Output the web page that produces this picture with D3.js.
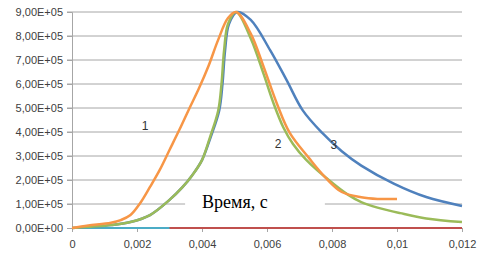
<!DOCTYPE html>
<html>
<head>
<meta charset="utf-8">
<script src="https://cdn.jsdelivr.net/npm/d3@7"></script>
<style>
  body { margin: 0; background: #fff; }
  svg { display: block; }
</style>
</head>
<body>
<div id="chart"></div>
<script>
// x ticks and y ticks
const xTicks = [0, 0.002, 0.004, 0.006, 0.008, 0.01, 0.012];
const yTicks = [0, 1e5, 2e5, 3e5, 4e5, 5e5, 6e5, 7e5, 8e5, 9e5];

// curve 1 (orange)
const orangeX = [0, 0.0005, 0.0012, 0.0015, 0.0018, 0.0021, 0.0024, 0.0027, 0.003, 0.0033, 0.0036, 0.0039, 0.0042, 0.0045, 0.0048, 0.00505, 0.0055, 0.0059, 0.0063, 0.0067, 0.0073, 0.0078, 0.0083, 0.0089, 0.0094, 0.01];
const orangeY = [0, 0.1e5, 0.22e5, 0.33e5, 0.54e5, 1.04e5, 1.71e5, 2.42e5, 3.25e5, 4.08e5, 4.95e5, 5.8e5, 6.75e5, 7.85e5, 8.75e5, 9.0e5, 8.1e5, 6.7e5, 5.2e5, 3.96e5, 2.9e5, 2.1e5, 1.5e5, 1.28e5, 1.21e5, 1.21e5];

// curve 2 (green)
const greenX = [0, 0.0012, 0.0018, 0.0024, 0.003, 0.0034, 0.0037, 0.004, 0.00425, 0.0045, 0.0046, 0.00468, 0.0048, 0.00505, 0.0055, 0.0059, 0.0062, 0.0065, 0.0068, 0.0072, 0.0079, 0.0085, 0.0089, 0.0094, 0.0101, 0.0109, 0.012];
const greenY = [0, 0.12e5, 0.25e5, 0.54e5, 1.17e5, 1.7e5, 2.2e5, 2.83e5, 3.8e5, 4.9e5, 6.0e5, 7.4e5, 8.5e5, 9.0e5, 7.9e5, 6.4e5, 5.2e5, 4.2e5, 3.5e5, 2.85e5, 2.0e5, 1.38e5, 1.08e5, 0.85e5, 0.62e5, 0.4e5, 0.25e5];

// curve 3 (blue)
const blueX = [0, 0.0012, 0.0018, 0.0024, 0.003, 0.0034, 0.0037, 0.004, 0.00427, 0.00453, 0.00463, 0.00471, 0.00483, 0.00508, 0.0055, 0.0061, 0.0066, 0.0071, 0.0077, 0.0083, 0.0089, 0.0099, 0.0109, 0.012];
const blueY = [0, 0.12e5, 0.25e5, 0.54e5, 1.17e5, 1.7e5, 2.2e5, 2.83e5, 3.8e5, 4.9e5, 6.0e5, 7.4e5, 8.5e5, 9.0e5, 8.67e5, 7.4e5, 6.17e5, 4.9e5, 3.96e5, 3.2e5, 2.6e5, 1.85e5, 1.29e5, 0.92e5];

// flat series along zero
const redX = [0, 0.012];
const redY = [0, 0];
const tealX = [0, 0.003];
const tealY = [0, 0];

// annotations: [text, x, y]
const curveLabels = [["1", 0.00225, 4.25e5], ["2", 0.00634, 3.5e5], ["3", 0.00806, 3.46e5]];
const axisTitle = "Время, с";

const width = 481, height = 256;
const margin = {left: 72, right: 19, top: 12, bottom: 28};
const w = width - margin.left - margin.right;
const h = height - margin.top - margin.bottom;

const svg = d3.select("#chart").append("svg")
    .attr("width", width)
    .attr("height", height)
    .append("g")
    .attr("transform", "translate(" + margin.left + "," + margin.top + ")");

const x = d3.scaleLinear().domain([0, 0.012]).range([0, w]);
const y = d3.scaleLinear().domain([0, 9e5]).range([h, 0]);

//Gridlines with small tick stubs on the left
svg.selectAll("line.grid")
    .data(yTicks.slice(1))
    .join("line")
    .attr("class", "grid")
    .attr("x1", -5)
    .attr("x2", w)
    .attr("y1", d => y(d))
    .attr("y2", d => y(d))
    .attr("stroke", "#a6a6a6")
    .attr("stroke-width", 1);

//Y axis
const yAxis = svg.append("g")
    .call(d3.axisLeft(y)
        .tickValues(yTicks)
        .tickSize(5)
        .tickPadding(4)
        .tickFormat(d => d3.format(".2e")(d).replace(".", ",").replace(/e([+-])(\d)$/, "E$10$2").replace(/e([+-])(\d\d)$/, "E$1$2")));
yAxis.select(".domain").attr("stroke", "#a6a6a6");
yAxis.selectAll(".tick line").attr("stroke", "#a6a6a6");
yAxis.selectAll("text")
    .attr("fill", "#404040")
    .style("font-family", "'Liberation Sans', Arial, sans-serif")
    .style("font-size", "11px");

//X axis
const xAxis = svg.append("g")
    .attr("transform", "translate(0," + h + ")")
    .call(d3.axisBottom(x)
        .tickValues(xTicks)
        .tickSize(4)
        .tickPadding(8)
        .tickFormat(d => d === 0 ? "0" : String(d).replace(".", ",")));
xAxis.select(".domain").attr("stroke", "#a6a6a6");
xAxis.selectAll(".tick line").attr("stroke", "#a6a6a6");
xAxis.selectAll("text")
    .attr("fill", "#404040")
    .style("font-family", "'Liberation Sans', Arial, sans-serif")
    .style("font-size", "11px");

const line = d3.line()
    .x(d => x(d[0]))
    .y(d => y(d[1]))
    .curve(d3.curveCatmullRom.alpha(0.5));

const series = [
    {xs: redX, ys: redY, color: "#c0504d", wd: 2},
    {xs: tealX, ys: tealY, color: "#4bacc6", wd: 2},
    {xs: blueX, ys: blueY, color: "#4f81bd", wd: 2.5},
    {xs: greenX, ys: greenY, color: "#9bbb59", wd: 2.5},
    {xs: orangeX, ys: orangeY, color: "#f79646", wd: 2.5}
];

svg.selectAll("path.series")
    .data(series)
    .join("path")
    .attr("class", "series")
    .attr("fill", "none")
    .attr("stroke", d => d.color)
    .attr("stroke-width", d => d.wd)
    .attr("stroke-linejoin", "round")
    .attr("d", d => line(d.xs.map((v, i) => [v, d.ys[i]])));

//Curve numbers
svg.selectAll("text.curveLabel")
    .data(curveLabels)
    .join("text")
    .attr("class", "curveLabel")
    .attr("x", d => x(d[1]))
    .attr("y", d => y(d[2]))
    .attr("dy", "0.35em")
    .attr("text-anchor", "middle")
    .attr("fill", "#333")
    .style("font-family", "'Liberation Sans', Arial, sans-serif")
    .style("font-size", "12px")
    .text(d => d[0]);

//Axis title in a white box over the plot
svg.append("rect")
    .attr("x", x(0.00348))
    .attr("y", y(1.75e5))
    .attr("width", x(0.00778) - x(0.00348))
    .attr("height", y(0.25e5) - y(1.75e5))
    .attr("fill", "#fff");

svg.append("text")
    .attr("x", x(0.004))
    .attr("y", y(0.83e5))
    .attr("fill", "#000")
    .style("font-family", "'Liberation Serif', 'Times New Roman', serif")
    .style("font-size", "18px")
    .text(axisTitle);
</script>
</body>
</html>
